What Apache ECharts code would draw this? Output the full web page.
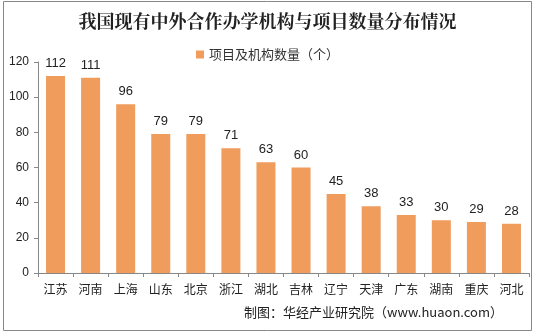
<!DOCTYPE html>
<html><head><meta charset="utf-8">
<script src="https://cdn.jsdelivr.net/npm/echarts@6/dist/echarts.min.js"></script>
<style>html,body{margin:0;padding:0;background:#fff}#c{width:535px;height:336px}</style>
</head><body><div id="c"></div>
<script>
const categories = ['江苏','河南','上海','山东','北京','浙江','湖北','吉林','辽宁','天津','广东','湖南','重庆','河北'];
const values = [112,111,96,79,79,71,63,60,45,38,33,30,29,28];
const seriesName = '项目及机构数量（个）';
const titleText = '我国现有中外合作办学机构与项目数量分布情况';
const sourceText = '制图：华经产业研究院（www.huaon.com）';
const yTicks = [0,20,40,60,80,100,120];

const chart = echarts.init(document.getElementById('c'), null, {renderer:'canvas'});
chart.setOption({
  backgroundColor:'#fff',
  animation:false,
  title:{text:titleText,left:'center',top:7,textStyle:{fontFamily:'Noto Serif CJK SC, Noto Sans CJK SC',fontWeight:'bold',fontSize:18,color:'#222'}},
  legend:{data:[seriesName],top:43,left:'center',itemWidth:8,itemHeight:8,itemGap:3,icon:'rect',
    textStyle:{fontFamily:'Noto Sans CJK SC',fontSize:13,color:'#333'}},
  graphic:[
    {type:'rect',shape:{x:3.5,y:1.5,width:528,height:329},style:{fill:'none',stroke:'#888',lineWidth:1}},
    {type:'text',right:32,top:306,style:{text:sourceText,fontFamily:'Noto Sans CJK SC',fontSize:13,fill:'#222'}}
  ],
  grid:{left:38,right:6,top:62,bottom:63},
  xAxis:{type:'category',data:categories,
    axisLine:{lineStyle:{color:'#888'}},
    axisTick:{show:true,alignWithLabel:false,length:4,lineStyle:{color:'#888'}},
    axisLabel:{fontFamily:'Noto Sans CJK SC',fontSize:12,color:'#222',margin:10,interval:0}},
  yAxis:{type:'value',min:yTicks[0],max:yTicks[yTicks.length-1],interval:20,
    axisLine:{show:true,lineStyle:{color:'#888'}},
    axisTick:{show:true,length:4,lineStyle:{color:'#888'}},
    splitLine:{show:false},
    axisLabel:{fontFamily:'Liberation Sans, Arial',fontSize:12,color:'#222',margin:9}},
  series:[{name:seriesName,type:'bar',data:values,barWidth:19,
    itemStyle:{color:'#EF9C5C'},
    label:{show:true,position:'top',distance:6,fontFamily:'Liberation Sans, Arial',fontSize:13,color:'#222'}}]
});
</script></body></html>
